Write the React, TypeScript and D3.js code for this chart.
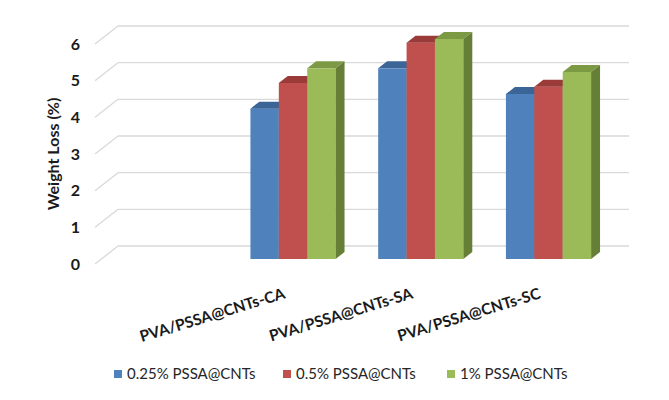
import React from "react";
import * as d3 from "d3";

// Excel-style 3D clustered column chart
const categories = ["", "PVA/PSSA@CNTs-CA", "PVA/PSSA@CNTs-SA", "PVA/PSSA@CNTs-SC"];
const seriesNames = ["0.25% PSSA@CNTs", "0.5% PSSA@CNTs", "1% PSSA@CNTs"];
const lowValues = [null, 4.1, 5.2, 4.5];
const midValues = [null, 4.8, 5.9, 4.7];
const highValues = [null, 5.2, 6.0, 5.1];
const yTicks = [0, 1, 2, 3, 4, 5, 6];

const colors = {
  front: ["#4F81BD", "#C0504D", "#9BBB59"],
  top: ["#3B6596", "#9A3B39", "#7C9A44"],
  side: ["#345985", "#8A3634", "#667F37"],
};

const App = () => {
  const width = 669;
  const height = 400;

  // front plane of the floor and the full depth of the box
  const front = { left: 95, right: 606, bottom: 264 };
  const depth = { dx: 23, dy: -18 };
  const barNear = 5 / 18;
  const barFar = 12 / 18;

  const yScale = d3.scaleLinear().domain([0, 6]).range([front.bottom, front.bottom - 220]);

  const x0 = d3
    .scaleBand()
    .domain(categories)
    .range([front.left, front.right])
    .paddingInner(1 / 3)
    .paddingOuter(1 / 6);

  const x1 = d3.scaleBand().domain(seriesNames).range([0, x0.bandwidth()]);

  const allSeries = [lowValues, midValues, highValues];

  const shift = (t) => ({ x: depth.dx * t, y: depth.dy * t });
  const near = shift(barNear);
  const far = shift(barFar);
  const back = shift(1);

  const bars = [];
  categories.forEach((cat, ci) => {
    seriesNames.forEach((s, si) => {
      const v = allSeries[si][ci];
      if (v == null) return;
      const xl = x0(cat) + x1(s) + near.x;
      const xr = xl + x1.bandwidth();
      const yb = yScale(0) + near.y;
      const yt = yScale(v) + near.y;
      const ddx = far.x - near.x;
      const ddy = far.y - near.y;
      bars.push(
        <g key={`${ci}-${si}`}>
          <rect x={xl} y={yt} width={xr - xl} height={yb - yt} fill={colors.front[si]} />
          <polygon
            points={`${xl},${yt} ${xr},${yt} ${xr + ddx},${yt + ddy} ${xl + ddx},${yt + ddy}`}
            fill={colors.top[si]}
          />
          <polygon
            points={`${xr},${yt} ${xr + ddx},${yt + ddy} ${xr + ddx},${yb + ddy} ${xr},${yb}`}
            fill={colors.side[si]}
          />
        </g>
      );
    });
  });

  const gridRight = front.right + back.x;

  return (
    <svg
      width={width}
      height={height}
      style={{ position: "absolute", left: 0, top: 0, background: "#fff" }}
      fontFamily="Lato, 'Open Sans', sans-serif"
    >
      <g>
        {yTicks.map((t) => (
          <g key={t}>
            <line
              x1={front.left}
              y1={yScale(t)}
              x2={front.left + back.x}
              y2={yScale(t) + back.y}
              stroke="#d9d9d9"
              strokeWidth={1.3}
            />
            <line
              x1={front.left + back.x}
              y1={yScale(t) + back.y}
              x2={gridRight}
              y2={yScale(t) + back.y}
              stroke="#d9d9d9"
              strokeWidth={1.3}
            />
            <text
              x={80}
              y={yScale(t)}
              dy="0.35em"
              textAnchor="end"
              fontSize={16}
              fontWeight="bold"
              fill="#1a1a1a"
            >
              {t}
            </text>
          </g>
        ))}
      </g>
      <text
        transform={`translate(53, 154) rotate(-90)`}
        dy="0.35em"
        textAnchor="middle"
        fontSize={16}
        fontWeight="bold"
        fill="#1a1a1a"
      >
        Weight Loss (%)
      </text>
      <g>{bars}</g>
      <g>
        {categories.map((cat) =>
          cat ? (
            <text
              key={cat}
              transform={`translate(${x0(cat) + x0.bandwidth() / 2 + near.x - 7}, 298) rotate(-17)`}
              textAnchor="end"
              fontSize={15.5}
              fontWeight="bold"
              fill="#1a1a1a"
            >
              {cat}
            </text>
          ) : null
        )}
      </g>
      <g>
        {seriesNames.map((s, i) => {
          const lx = [114, 283, 447][i];
          return (
            <g key={s} transform={`translate(${lx}, 370)`}>
              <rect x={0} y={0} width={8} height={8} fill={colors.front[i]} />
              <text x={13} y={4} dy="0.35em" fontSize={15} fill="#262626">
                {s}
              </text>
            </g>
          );
        })}
      </g>
    </svg>
  );
};

export default App;
